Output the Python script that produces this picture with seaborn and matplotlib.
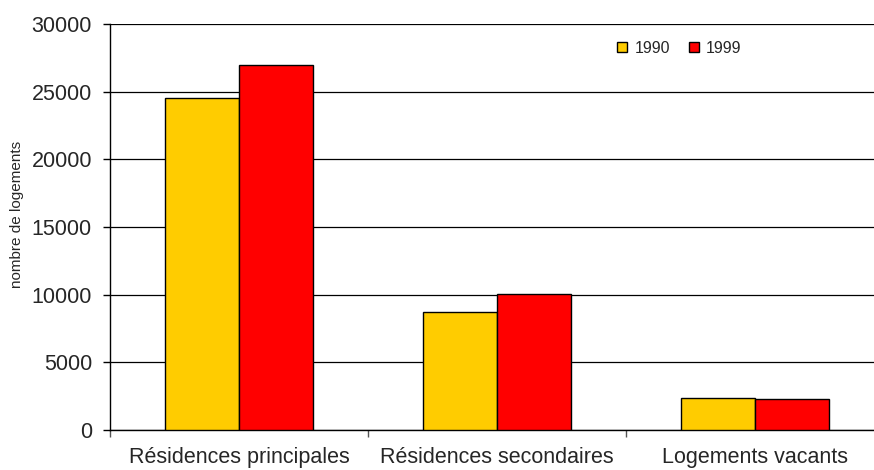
import matplotlib
matplotlib.use("Agg")
import matplotlib.pyplot as plt
import seaborn as sns
import pandas as pd
from matplotlib.ticker import FixedLocator

categories = ["Résidences principales", "Résidences secondaires", "Logements vacants"]
years = ["1990", "1999"]
values_1990 = [24500, 8700, 2400]
values_1999 = [27000, 10050, 2300]
yticks = [0, 5000, 10000, 15000, 20000, 25000, 30000]

df = pd.DataFrame({
    "cat": categories * 2,
    "year": [years[0]] * 3 + [years[1]] * 3,
    "val": values_1990 + values_1999,
})

sns.set_theme(style="white")
plt.rcParams['font.family'] = ['Liberation Sans', 'DejaVu Sans']

fig = plt.figure(figsize=(8.74, 4.70), dpi=100)
ax = fig.add_axes([110/874, 40/470, 774/874, 406/470])

sns.barplot(data=df, x="cat", y="val", hue="year", order=categories,
            hue_order=years, palette=["#FFCC00", "#FF0000"], width=0.574,
            edgecolor="black", linewidth=1.0, saturation=1, ax=ax, zorder=3,
            errorbar=None)

ax.set_xlim(-0.5, 2.5)
ax.set_ylim(0, 30000)
ax.set_yticks(yticks)
ax.set_yticklabels([str(v) for v in yticks], fontsize=15.5)
ax.yaxis.grid(True, color="black", linewidth=0.9)
ax.set_axisbelow(True)
for s in ["top", "right"]:
    ax.spines[s].set_visible(False)
for s in ["left", "bottom"]:
    ax.spines[s].set_color("black")
    ax.spines[s].set_linewidth(1.0)

ax.tick_params(axis="y", length=5, width=1, color="black", pad=8, left=True, direction="out")
ax.tick_params(axis="x", which="major", length=0, pad=12, labelsize=15.5)
ax.xaxis.set_minor_locator(FixedLocator([-0.5, 0.5, 1.5, 2.5]))
ax.tick_params(axis="x", which="minor", length=5, width=1, color="#555555", bottom=True, direction="out")
ax.set_xlabel("")
ax.set_ylabel("")
fig.text(17/874, 1 - 214/470, "nombre de logements", rotation=90, fontsize=11,
         ha="center", va="center")

leg = ax.legend(loc="upper left", bbox_to_anchor=(501/774, 0.975), ncol=2, frameon=False,
                fontsize=11.5, handlelength=0.62, handleheight=0.62, columnspacing=1.2,
                handletextpad=0.45, borderaxespad=0)
for h in leg.legend_handles:
    h.set_edgecolor("black")
    h.set_linewidth(1.0)

fig.savefig("out.png", dpi=100)
